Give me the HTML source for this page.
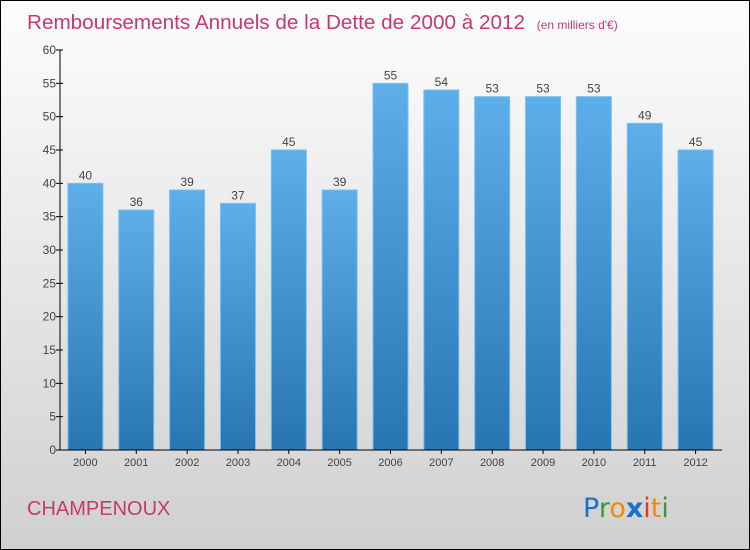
<!DOCTYPE html>
<html><head><meta charset="utf-8"><style>
body{margin:0}
#c{position:relative;width:748px;height:548px;border:1px solid #000;background:linear-gradient(#fdfdfd,#d0d0d0);overflow:hidden;font-family:"Liberation Sans",sans-serif}
</style></head><body>
<div id="c">
<svg id="s" width="748" height="548">
<defs><linearGradient id="g" x1="0" y1="0" x2="0" y2="1"><stop offset="0" stop-color="#5daee9"/><stop offset="1" stop-color="#2776b2"/></linearGradient></defs>
<text x="26" y="28" font-size="20.7" fill="#c8386a">Remboursements Annuels de la Dette de 2000 à 2012 <tspan font-size="12" dx="6">(en milliers d'€)</tspan></text>
<text x="26" y="514" font-size="20" fill="#c8386a">CHAMPENOUX</text>
<g font-size="27" font-family="DejaVu Sans, sans-serif">
<text x="582" y="516"><tspan fill="#1a73c8">P</tspan><tspan fill="#3a9a3a">r</tspan><tspan fill="#f08a00">o</tspan><tspan fill="#1a73c8" font-weight="bold">x</tspan><tspan fill="#e03a1a">i</tspan><tspan fill="#f08a00">t</tspan><tspan fill="#3a9a3a">i</tspan></text></g>
<g id="plot"></g>
</svg></div>
<script>
const categories=["2000","2001","2002","2003","2004","2005","2006","2007","2008","2009","2010","2011","2012"];
const values=[40,36,39,37,45,39,55,54,53,53,53,49,45];
const yTicks=[0,5,10,15,20,25,30,35,40,45,50,55,60];
const NS="http://www.w3.org/2000/svg";
const g=document.getElementById('plot');
const x0=59,x1=720,y0=449,yTop=49,yMax=60;
const y=v=>y0-(y0-yTop)*v/yMax;
const step=(x1-x0)/categories.length;
const xc=i=>x0+step*(i+0.5);
function el(t,a){const e=document.createElementNS(NS,t);for(const k in a)e.setAttribute(k,a[k]);g.appendChild(e);return e;}
values.forEach((v,i)=>{
 const r=el('rect',{x:xc(i)-17.5,y:y(v),width:35,height:y0-y(v),fill:'url(#g)',stroke:'#7cc0ef','stroke-width':1});
 
 
 const t=el('text',{x:xc(i),y:y(v)-4,'font-size':12,'text-anchor':'middle',fill:'#444'});t.textContent=v;
 
 
 const c=el('text',{x:xc(i),y:y0+16,'font-size':11,'text-anchor':'middle',fill:'#444'});c.textContent=categories[i];
 
 
 el('line',{x1:xc(i),x2:xc(i),y1:y0,y2:y0+4,stroke:'#000'});
});
yTicks.forEach(v=>{
 el('line',{x1:x0-4,x2:x0+3,y1:y(v),y2:y(v),stroke:'#000'});
 const t=el('text',{x:x0-4,y:y(v)+4,'font-size':12,'text-anchor':'end',fill:'#444'});t.textContent=v;
 
 
});
const ya=el('line',{x1:x0,x2:x0,y1:yTop,y2:y0,stroke:'#000'});


const xa=el('line',{x1:x0,x2:x1+1,y1:y0,y2:y0,stroke:'#000'});


</script>
</body></html>
